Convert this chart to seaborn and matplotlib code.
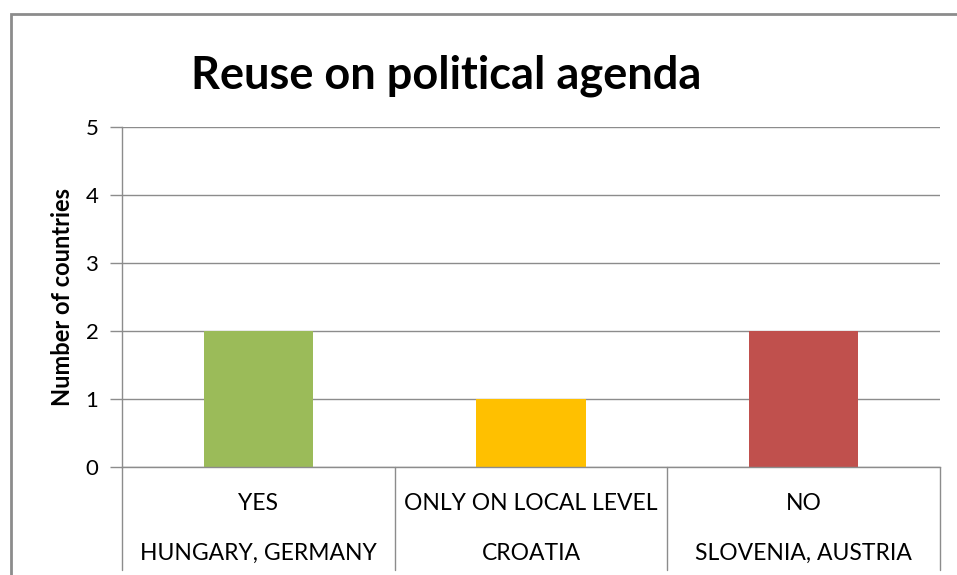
import matplotlib
matplotlib.use("Agg")
import matplotlib.pyplot as plt
import matplotlib.patches as mpatches
import seaborn as sns
import pandas as pd

answers = ["YES", "ONLY ON LOCAL LEVEL", "NO"]
countries = ["HUNGARY, GERMANY", "CROATIA", "SLOVENIA, AUSTRIA"]
counts = [2, 1, 2]
colors = ["#9BBB59", "#FFC000", "#C0504D"]
yticks = [0, 1, 2, 3, 4, 5]

sns.set_theme(style="white")
plt.rcParams["font.family"] = ["Lato", "DejaVu Sans"]

W, H = 957, 575
fig = plt.figure(figsize=(W / 100, H / 100), dpi=100)
fig.patch.set_facecolor("white")

# outer chart frame
fig.add_artist(mpatches.Rectangle((10.5 / W, -0.1), 1.2, 1 - 14 / H + 0.1,
                                  transform=fig.transFigure, fill=False,
                                  edgecolor="#8c8c8c", linewidth=2))

x0, x1, ytop, ybot = 122, 940, 127, 467
ax = fig.add_axes([x0 / W, 1 - ybot / H, (x1 - x0) / W, (ybot - ytop) / H])

df = pd.DataFrame({"answer": answers, "count": counts})
sns.barplot(data=df, x="answer", y="count", hue="answer", palette=colors,
            width=0.4, legend=False, ax=ax, saturation=1, linewidth=0)

ax.set_xlim(-0.5, len(answers) - 0.5)
ax.set_ylim(0, 5)
ax.set_yticks(yticks)
ax.set_yticklabels([str(v) for v in yticks], fontsize=16, color="#000000")
ax.set_xticks([])
ax.set_xlabel("")
ax.set_ylabel("Number of countries", fontsize=17, fontweight="bold",
              color="#000000", labelpad=8)

ax.set_axisbelow(True)
ax.yaxis.grid(True, color="#8c8c8c", linewidth=1)
for side in ["top", "right"]:
    ax.spines[side].set_visible(False)
for side in ["left", "bottom"]:
    ax.spines[side].set_color("#8c8c8c")
    ax.spines[side].set_linewidth(1)
ax.tick_params(axis="y", length=9, width=1, color="#8c8c8c", pad=8, left=True)

# multi-level category axis
trans = ax.get_xaxis_transform()
depth = (570 - ybot) / (ybot - ytop)
for i in range(len(answers) + 1):
    ax.plot([i - 0.5, i - 0.5], [0, -depth], transform=trans, clip_on=False,
            color="#8c8c8c", linewidth=1)
row1 = -(503 - ybot) / (ybot - ytop)
row2 = -(553 - ybot) / (ybot - ytop)
for i, (a, c) in enumerate(zip(answers, countries)):
    ax.text(i, row1, a, transform=trans, ha="center", va="center",
            fontsize=16.5, color="#000000")
    ax.text(i, row2, c, transform=trans, ha="center", va="center",
            fontsize=16.5, color="#000000")

fig.text(446 / W, 1 - 76 / H, "Reuse on political agenda", ha="center",
         va="center", fontsize=32.5, fontweight="bold", color="#000000")

fig.savefig("out.png", dpi=100)
